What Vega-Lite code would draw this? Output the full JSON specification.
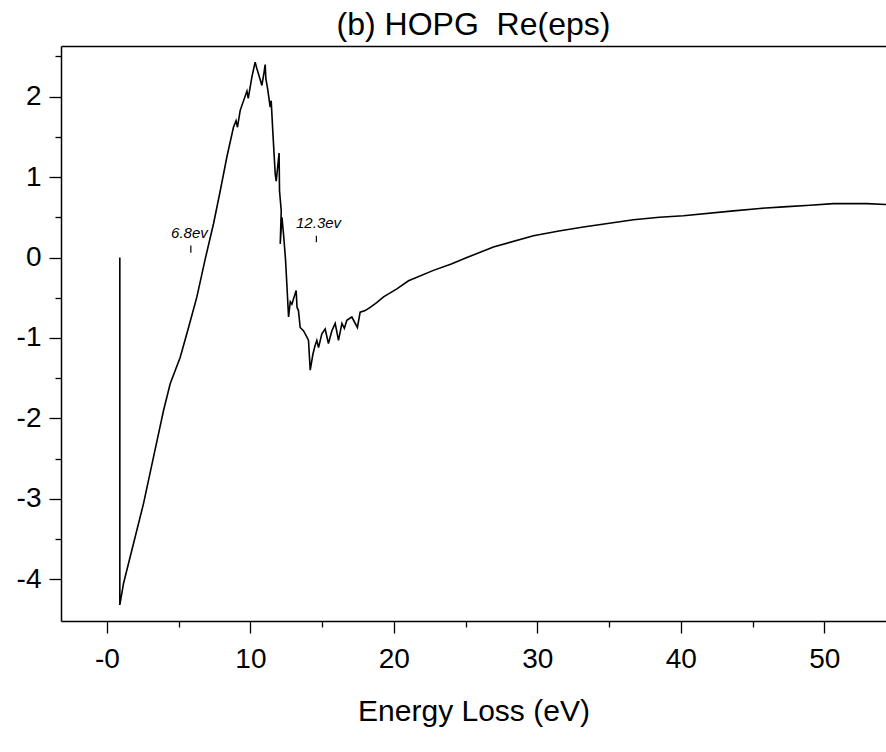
{
  "$schema": "https://vega.github.io/schema/vega-lite/v6.json",
  "width": 825,
  "height": 575,
  "autosize": {"type": "none"},
  "padding": {"left": 61, "top": 46, "right": 0, "bottom": 131},
  "background": "white",
  "config": {"view": {"stroke": null}, "font": "Liberation Sans"},
  "title": {"text": "(b) HOPG\u00a0 Re(eps)", "fontSize": 32, "font": "Liberation Sans", "fontWeight": "normal", "color": "black", "anchor": "middle", "baseline": "alphabetic", "offset": 6, "dy": 31},
  "datasets": {
    "curve": [
      {"i": 0, "x": 0.9, "y": 0},
      {"i": 1, "x": 0.9, "y": -4.32},
      {"i": 2, "x": 1.16, "y": -4.05},
      {"i": 3, "x": 1.85, "y": -3.56},
      {"i": 4, "x": 2.55, "y": -3.06},
      {"i": 5, "x": 3.25, "y": -2.48},
      {"i": 6, "x": 3.95, "y": -1.9},
      {"i": 7, "x": 4.41, "y": -1.57},
      {"i": 8, "x": 5.11, "y": -1.24},
      {"i": 9, "x": 5.69, "y": -0.87},
      {"i": 10, "x": 6.27, "y": -0.49},
      {"i": 11, "x": 6.85, "y": -0.02},
      {"i": 12, "x": 7.43, "y": 0.42},
      {"i": 13, "x": 7.9, "y": 0.83},
      {"i": 14, "x": 8.36, "y": 1.25},
      {"i": 15, "x": 8.82, "y": 1.62},
      {"i": 16, "x": 9.0, "y": 1.7},
      {"i": 17, "x": 9.1, "y": 1.62},
      {"i": 18, "x": 9.29, "y": 1.83},
      {"i": 19, "x": 9.76, "y": 2.07},
      {"i": 20, "x": 9.85, "y": 1.98},
      {"i": 21, "x": 10.1, "y": 2.24},
      {"i": 22, "x": 10.33, "y": 2.43},
      {"i": 23, "x": 10.45, "y": 2.35},
      {"i": 24, "x": 10.57, "y": 2.28},
      {"i": 25, "x": 10.7, "y": 2.2},
      {"i": 26, "x": 10.8, "y": 2.14},
      {"i": 27, "x": 10.95, "y": 2.3},
      {"i": 28, "x": 11.03, "y": 2.4},
      {"i": 29, "x": 11.08, "y": 2.22},
      {"i": 30, "x": 11.2, "y": 2.1},
      {"i": 31, "x": 11.38, "y": 1.87},
      {"i": 32, "x": 11.45, "y": 1.95},
      {"i": 33, "x": 11.57, "y": 1.54},
      {"i": 34, "x": 11.73, "y": 1.04},
      {"i": 35, "x": 11.8, "y": 0.95},
      {"i": 36, "x": 12.0, "y": 1.3},
      {"i": 37, "x": 12.03, "y": 0.83},
      {"i": 38, "x": 12.15, "y": 0.58},
      {"i": 39, "x": 12.08, "y": 0.17},
      {"i": 40, "x": 12.2, "y": 0.5},
      {"i": 41, "x": 12.31, "y": 0.29},
      {"i": 42, "x": 12.45, "y": -0.03},
      {"i": 43, "x": 12.54, "y": -0.33},
      {"i": 44, "x": 12.66, "y": -0.74},
      {"i": 45, "x": 12.78, "y": -0.55},
      {"i": 46, "x": 12.89, "y": -0.58},
      {"i": 47, "x": 13.19, "y": -0.41},
      {"i": 48, "x": 13.25, "y": -0.62},
      {"i": 49, "x": 13.35, "y": -0.66},
      {"i": 50, "x": 13.47, "y": -0.87},
      {"i": 51, "x": 13.7, "y": -0.91},
      {"i": 52, "x": 13.94, "y": -0.99},
      {"i": 53, "x": 14.05, "y": -1.03},
      {"i": 54, "x": 14.17, "y": -1.4},
      {"i": 55, "x": 14.36, "y": -1.2},
      {"i": 56, "x": 14.5, "y": -1.1},
      {"i": 57, "x": 14.63, "y": -1.03},
      {"i": 58, "x": 14.75, "y": -1.12},
      {"i": 59, "x": 14.98, "y": -0.95},
      {"i": 60, "x": 15.21, "y": -0.89},
      {"i": 61, "x": 15.44, "y": -1.07},
      {"i": 62, "x": 15.68, "y": -0.91},
      {"i": 63, "x": 15.91, "y": -0.82},
      {"i": 64, "x": 16.14, "y": -1.03},
      {"i": 65, "x": 16.38, "y": -0.82},
      {"i": 66, "x": 16.55, "y": -0.88},
      {"i": 67, "x": 16.72, "y": -0.78},
      {"i": 68, "x": 17.07, "y": -0.74},
      {"i": 69, "x": 17.46, "y": -0.87},
      {"i": 70, "x": 17.65, "y": -0.68},
      {"i": 71, "x": 18.0, "y": -0.66},
      {"i": 72, "x": 18.35, "y": -0.62},
      {"i": 73, "x": 18.8, "y": -0.56},
      {"i": 74, "x": 19.28, "y": -0.49},
      {"i": 75, "x": 20.21, "y": -0.39},
      {"i": 76, "x": 21.02, "y": -0.29},
      {"i": 77, "x": 22.76, "y": -0.16},
      {"i": 78, "x": 24.0, "y": -0.08},
      {"i": 79, "x": 25.09, "y": 0.0},
      {"i": 80, "x": 26.94, "y": 0.13},
      {"i": 81, "x": 29.73, "y": 0.27},
      {"i": 82, "x": 31.5, "y": 0.33},
      {"i": 83, "x": 33.21, "y": 0.38},
      {"i": 84, "x": 36.7, "y": 0.47},
      {"i": 85, "x": 38.5, "y": 0.5},
      {"i": 86, "x": 40.18, "y": 0.52},
      {"i": 87, "x": 43.67, "y": 0.58},
      {"i": 88, "x": 45.5, "y": 0.61},
      {"i": 89, "x": 47.15, "y": 0.63},
      {"i": 90, "x": 49.0, "y": 0.65},
      {"i": 91, "x": 50.63, "y": 0.67},
      {"i": 92, "x": 52.96, "y": 0.67},
      {"i": 93, "x": 54.3, "y": 0.66}
    ],
    "labels": [
      {"x": 5.75, "y": 0.31, "label": "6.8ev"},
      {"x": 14.75, "y": 0.43, "label": "12.3ev"}
    ],
    "markers": [
      {"x": 5.85, "y": 0.15, "y2": 0.06},
      {"x": 14.6, "y": 0.27, "y2": 0.19}
    ]
  },
  "layer": [
    {
      "data": {"name": "curve"},
      "mark": {"type": "line", "color": "black", "strokeWidth": 1.6, "clip": true},
      "encoding": {
        "x": {
          "field": "x", "type": "quantitative",
          "scale": {"domain": [-3.2, 54.3], "nice": false, "zero": false},
          "axis": {
            "orient": "bottom",
            "values": [0, 5, 10, 15, 20, 25, 30, 35, 40, 45, 50],
            "labelExpr": "datum.value === 0 ? '-0' : (datum.value % 10 === 0 ? '' + datum.value : '')",
            "tickSize": {"condition": {"test": "datum.value % 10 === 0", "value": 12}, "value": 6},
            "tickWidth": 1.3, "tickColor": "black",
            "domainColor": "black", "domainWidth": 1.5,
            "labelFontSize": 28, "labelColor": "black", "labelFont": "Liberation Sans",
            "labelPadding": 12, "labelOverlap": false, "labelFlush": false,
            "grid": false,
            "title": "Energy Loss (eV)", "titleFontSize": 30, "titleFontWeight": "normal",
            "titleColor": "black", "titleFont": "Liberation Sans",
            "titleBaseline": "alphabetic", "titleY": 99
          }
        },
        "y": {
          "field": "y", "type": "quantitative",
          "scale": {"domain": [-4.52, 2.63], "nice": false, "zero": false},
          "axis": {
            "values": [-4, -3.5, -3, -2.5, -2, -1.5, -1, -0.5, 0, 0.5, 1, 1.5, 2, 2.5],
            "labelExpr": "datum.value % 1 === 0 ? '' + datum.value : ''",
            "tickSize": {"condition": {"test": "datum.value % 1 === 0", "value": 12}, "value": 6},
            "tickWidth": 1.3, "tickColor": "black",
            "domainColor": "black", "domainWidth": 1.5,
            "labelFontSize": 28, "labelColor": "black", "labelFont": "Liberation Sans",
            "labelPadding": 8, "labelOverlap": false, "labelFlush": false,
            "grid": false, "title": null
          }
        },
        "order": {"field": "i", "type": "quantitative"}
      }
    },
    {
      "mark": {"type": "rule", "color": "black", "strokeWidth": 1.5},
      "encoding": {"y": {"datum": 0, "type": "quantitative", "scale": {"domain": [-4.52, 2.63], "nice": false, "zero": false}}}
    },
    {
      "data": {"name": "labels"},
      "mark": {"type": "text", "fontStyle": "italic", "fontSize": 15, "font": "Liberation Sans", "color": "black", "align": "center", "baseline": "middle"},
      "encoding": {
        "x": {
          "field": "x", "type": "quantitative",
          "scale": {"domain": [-3.2, 54.3], "nice": false, "zero": false},
          "axis": {"orient": "top", "labels": false, "ticks": false, "domain": true, "domainColor": "black", "domainWidth": 1.5, "grid": false, "title": null}
        },
        "y": {"field": "y", "type": "quantitative", "scale": {"domain": [-4.52, 2.63], "nice": false, "zero": false}, "title": null},
        "text": {"field": "label"}
      }
    },
    {
      "data": {"name": "markers"},
      "mark": {"type": "rule", "color": "black", "strokeWidth": 1.2},
      "encoding": {
        "x": {"field": "x", "type": "quantitative", "scale": {"domain": [-3.2, 54.3], "nice": false, "zero": false}, "axis": null},
        "y": {"field": "y", "type": "quantitative", "scale": {"domain": [-4.52, 2.63], "nice": false, "zero": false}, "title": null},
        "y2": {"field": "y2"}
      }
    }
  ],
  "resolve": {"axis": {"x": "independent"}}
}
